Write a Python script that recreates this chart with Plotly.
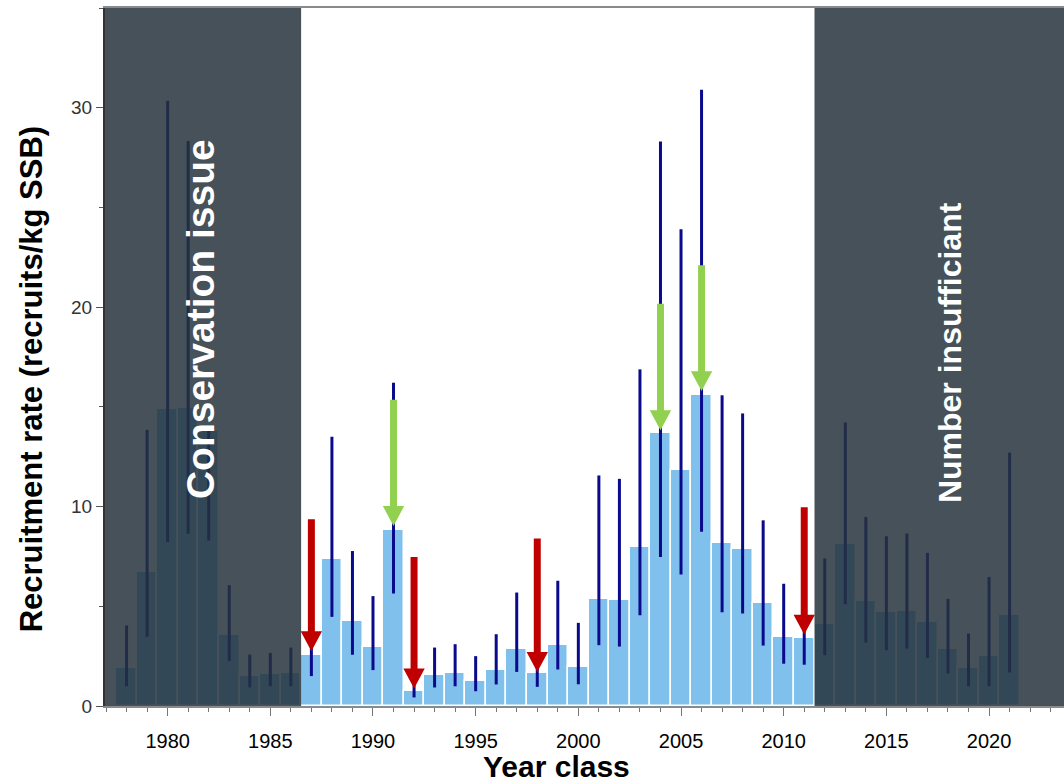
import plotly.graph_objects as go

# Recruitment rate per year class with 95% interval bounds
years = list(range(1978, 2022))
rate = [1.93, 6.71, 14.9, 14.95, 13.8, 3.57, 1.50, 1.58, 1.65,
        2.57, 7.36, 4.27, 2.98, 8.82, 0.76, 1.55, 1.63, 1.26, 1.80,
        2.88, 1.68, 3.05, 1.98, 5.39, 5.34, 7.96, 13.68, 11.83, 15.58,
        8.15, 7.89, 5.14, 3.44, 3.39,
        4.13, 8.11, 5.25, 4.72, 4.74, 4.22, 2.86, 1.89, 2.51, 4.55]
rate_low = [0.99, 3.47, 8.22, 8.64, 8.30, 2.26, 0.93, 0.99, 0.99,
            1.50, 4.47, 2.57, 1.80, 5.64, 0.43, 0.93, 0.99, 0.74, 1.08,
            1.71, 0.96, 1.83, 1.09, 3.05, 2.98, 4.55, 7.47, 6.60, 8.74,
            4.70, 4.64, 3.03, 2.12, 2.07,
            2.55, 5.10, 3.18, 2.80, 2.88, 2.41, 1.63, 0.99, 0.99, 1.68]
rate_high = [4.04, 13.85, 30.35, 28.33, 13.90, 6.06, 2.58, 2.66, 2.93,
             3.90, 13.50, 7.77, 5.51, 16.21, 1.30, 2.93, 3.10, 2.50, 3.60,
             5.69, 3.00, 6.28, 4.17, 11.56, 11.39, 16.88, 28.30, 23.90, 30.90,
             15.58, 14.67, 9.31, 6.13, 4.20,
             7.40, 14.22, 9.48, 8.51, 8.65, 7.68, 5.37, 3.63, 6.47, 12.70]

# Shaded periods
conservation_span = (1976.9, 1986.5)
insufficient_span = (2011.5, 2024.0)

# Weak (red) and strong (green) year classes: year, arrow start, arrow tip
weak_years = [1987, 1992, 1998, 2011]
weak_start = [9.36, 7.47, 8.40, 9.96]
weak_tip = [2.75, 0.88, 1.71, 3.58]
strong_years = [1991, 2004, 2006]
strong_start = [15.36, 20.17, 22.10]
strong_tip = [9.03, 13.83, 15.79]

FONT = "Liberation Sans, Arial, sans-serif"

err_plus = [h - v for h, v in zip(rate_high, rate)]
err_minus = [v - l for v, l in zip(rate, rate_low)]

fig = go.Figure()
fig.add_trace(go.Bar(
    x=years, y=rate, width=1.0,
    marker=dict(color="#80C0EC", line=dict(color="#FFFFFF", width=1.5)),
    error_y=dict(type="data", symmetric=False, array=err_plus,
                 arrayminus=err_minus, color="#0A0A8C", thickness=3, width=0),
    showlegend=False, hoverinfo="skip",
))

shapes = []
for x0, x1 in (conservation_span, insufficient_span):
    shapes.append(dict(type="rect", xref="x", yref="paper", x0=x0, x1=x1,
                       y0=0, y1=1, line=dict(width=0),
                       fillcolor="rgba(38,50,60,0.85)", layer="above"))


def arrow(x, y_start, y_tip, color):
    shaft_hw = 0.17   # half shaft width, years
    head_hw = 0.52    # half head width, years
    head_len = 1.0    # head length, y units
    base = y_tip + head_len
    path = (f"M {x - shaft_hw},{y_start} L {x + shaft_hw},{y_start} "
            f"L {x + shaft_hw},{base} L {x + head_hw},{base} L {x},{y_tip} "
            f"L {x - head_hw},{base} L {x - shaft_hw},{base} Z")
    return dict(type="path", xref="x", yref="y", path=path,
                fillcolor=color, line=dict(width=0), layer="above")


for x, s, t in zip(weak_years, weak_start, weak_tip):
    shapes.append(arrow(x, s, t, "#C00000"))
for x, s, t in zip(strong_years, strong_start, strong_tip):
    shapes.append(arrow(x, s, t, "#92D050"))

annotations = [
    dict(text="Conservation issue", x=1981.6, y=10.3, xref="x", yref="y",
         xanchor="center", yanchor="bottom", textangle=-90, showarrow=False,
         font=dict(family=FONT, size=39, color="white", weight="bold")),
    dict(text="Number insufficiant", x=2018.1, y=10.05, xref="x", yref="y",
         xanchor="center", yanchor="bottom", textangle=-90, showarrow=False,
         font=dict(family=FONT, size=32, color="white", weight="bold")),
    dict(text="Recruitment rate (recruits/kg SSB)", xref="paper", yref="paper",
         x=0, y=0.468, xshift=-74, xanchor="center", yanchor="middle",
         textangle=-90, showarrow=False,
         font=dict(family=FONT, size=31, color="black", weight="bold")),
    dict(text="Year class", xref="paper", yref="paper",
         x=0.471, y=0, yshift=-60, xanchor="center", yanchor="middle",
         showarrow=False,
         font=dict(family=FONT, size=30, color="black", weight="bold")),
]

fig.update_layout(
    width=1064, height=784,
    margin=dict(l=105, r=0, t=8, b=78),
    paper_bgcolor="white", plot_bgcolor="white",
    bargap=0, shapes=shapes, annotations=annotations,
    font=dict(family=FONT),
)
fig.update_xaxes(
    range=[1976.95, 2023.65], showgrid=False, zeroline=False,
    showline=True, linecolor="#8A8A8A", linewidth=1.5, mirror=True,
    ticks="outside", tick0=1980, dtick=5, ticklen=8, tickcolor="#777777",
    ticklabelstandoff=8,
    tickfont=dict(family=FONT, size=20, color="black"),
    minor=dict(dtick=1, ticks="outside", ticklen=4, tickcolor="#777777"),
)
fig.update_yaxes(
    range=[0, 35], showgrid=False, zeroline=False,
    showline=True, linecolor="#333333", linewidth=2,
    ticks="outside", tickvals=[0, 10, 20, 30], ticklen=7, tickcolor="#555555",
    tickfont=dict(family=FONT, size=19, color="#333333"),
    minor=dict(dtick=5, ticks="outside", ticklen=4, tickcolor="#555555"),
)

fig.write_html("out.html")
